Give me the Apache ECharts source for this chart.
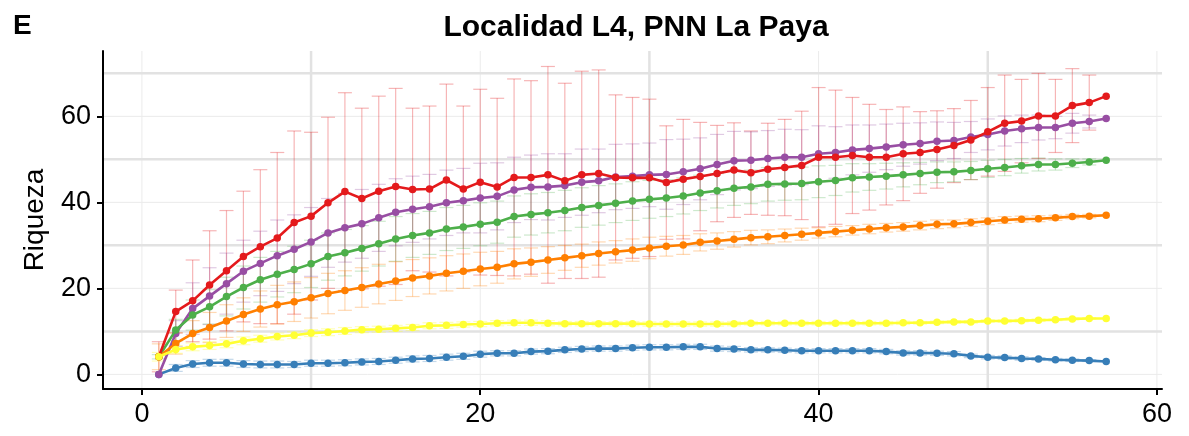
<!DOCTYPE html>
<html>
<head>
<meta charset="utf-8">
<title>Localidad L4, PNN La Paya</title>
<script src="https://cdn.jsdelivr.net/npm/echarts@6.0.0/dist/echarts.min.js"></script>
<style>
  html, body { margin: 0; padding: 0; background: #fff; }
  #chart { width: 1189px; height: 436px; }
</style>
</head>
<body>
<div id="chart"></div>
<script>
// muestras (eje x)
var muestras = [1,2,3,4,5,6,7,8,9,10,11,12,13,14,15,16,17,18,19,20,21,22,23,24,25,26,27,28,29,30,
  31,32,33,34,35,36,37,38,39,40,41,42,43,44,45,46,47,48,49,50,51,52,53,54,55,56,57];

// riqueza media por serie
var rojo = [4.1,14.6,17.1,20.8,24.1,27.4,29.7,31.7,35.3,36.8,39.9,42.5,40.9,42.6,43.7,43.0,43.1,45.2,43.1,44.7,
  43.6,45.8,45.8,46.4,45.0,46.4,46.7,45.8,45.7,45.7,44.6,45.4,46.0,46.7,47.5,46.9,47.7,48.1,48.6,50.5,
  50.5,50.9,50.5,50.5,51.3,51.6,52.3,53.2,54.5,56.4,58.4,58.9,60.1,60.1,62.5,63.2,64.7];
var morado = [0,9.5,15.3,18.2,21.1,24.0,25.8,27.6,29.1,30.8,32.9,34.1,35.0,36.4,37.7,38.4,39.0,39.9,40.4,41.0,
  41.4,42.9,43.5,43.6,43.9,44.7,45.0,45.9,46.1,46.4,46.5,47.1,47.8,48.8,49.7,49.8,50.2,50.5,50.5,51.3,
  51.6,52.2,52.5,52.9,53.4,53.7,54.2,54.4,55.2,55.8,56.6,57.1,57.4,57.4,58.4,58.8,59.5];
var verde = [4.1,10.3,13.8,15.7,18.1,20.2,22.0,23.3,24.4,25.7,27.4,28.3,29.3,30.4,31.5,32.3,32.9,33.8,34.3,34.9,
  35.4,36.7,37.2,37.6,38.1,38.8,39.3,39.8,40.3,40.7,41.0,41.5,42.2,42.7,43.3,43.6,44.2,44.3,44.4,44.8,
  45.1,45.7,45.9,46.1,46.4,46.7,47.0,47.1,47.4,47.8,48.1,48.5,48.8,48.8,49.1,49.4,49.8];
var naranja = [4.1,7.2,9.5,10.9,12.4,13.9,15.2,16.2,16.9,17.8,18.8,19.5,20.2,21.0,21.7,22.4,22.9,23.5,24.0,24.5,
  24.9,25.7,26.1,26.6,27.1,27.6,28.1,28.5,28.9,29.4,29.8,30.1,30.7,31.0,31.4,31.8,32.0,32.3,32.6,32.9,
  33.2,33.5,33.8,34.1,34.3,34.6,34.9,35.0,35.3,35.6,35.9,36.1,36.2,36.4,36.7,36.8,37.0];
var amarillo = [4.1,5.8,6.4,6.7,7.1,7.8,8.3,8.8,9.1,9.6,9.8,10.1,10.4,10.5,10.7,10.9,11.3,11.4,11.6,11.7,
  11.9,12.0,12.0,11.9,11.8,11.8,11.8,11.8,11.8,11.7,11.7,11.7,11.7,11.7,11.8,11.9,11.9,11.9,11.9,11.9,
  11.9,11.9,11.9,11.9,12.0,12.0,12.1,12.2,12.2,12.4,12.4,12.5,12.6,12.7,12.9,13.0,13.0];
var azul = [0,1.5,2.4,2.7,2.7,2.4,2.3,2.3,2.3,2.6,2.6,2.7,2.9,3.0,3.3,3.6,3.7,4.0,4.2,4.7,
  4.9,4.9,5.3,5.4,5.7,5.9,6.0,6.0,6.2,6.3,6.3,6.4,6.4,6.0,5.9,5.7,5.7,5.6,5.5,5.5,
  5.5,5.5,5.5,5.3,5.0,5.0,4.9,4.8,4.3,4.0,3.9,3.7,3.6,3.4,3.3,3.2,3.0];

// desviaciones (barras de error, +/-)
var rojoErr = [3.5,5.0,9.5,12.6,14.0,15.2,17.9,19.9,21.3,19.5,19.9,23.0,21.0,22.1,22.8,18.9,19.3,22.3,19.3,21.6,
  20.6,22.9,22.5,25.2,22.7,24.1,24.1,19.2,18.7,18.3,13.2,13.9,12.6,11.2,11.0,9.7,10.7,11.2,12.6,16.2,
  15.6,13.5,12.3,11.1,10.9,9.5,9.0,8.6,9.2,10.3,11.2,9.7,9.9,8.5,8.6,6.4,0];
var moradoErr = [0,3.0,6.0,6.6,7.1,7.2,7.5,8.3,8.0,8.0,8.0,8.0,8.0,7.8,7.8,7.7,7.5,7.6,7.5,8.1,
  7.8,7.6,7.5,7.7,7.4,7.7,7.4,7.6,7.5,7.4,8.1,7.6,7.2,7.0,6.8,6.6,6.5,6.5,6.4,6.5,
  6.0,5.8,5.5,5.3,5.0,4.8,4.5,4.2,3.6,3.6,3.5,3.2,2.9,2.6,2.3,1.5,0];
var verdeErr = [0.5,2.5,3.5,4.0,4.5,5.0,5.2,5.3,5.4,5.5,5.5,5.4,5.3,5.2,5.2,5.1,5.0,5.0,5.0,5.0,
  4.9,4.8,4.8,4.7,4.7,4.6,4.6,4.5,4.5,4.4,4.3,4.2,4.1,4.0,4.0,3.9,3.9,3.8,3.8,3.7,
  3.5,3.3,3.1,3.0,2.8,2.6,2.4,2.3,2.1,2.0,1.9,1.7,1.5,1.3,1.0,0.7,0];
var naranjaErr = [3.0,2.5,3.0,3.5,3.8,3.9,4.2,4.5,4.6,4.7,4.7,4.6,4.6,4.6,4.5,4.3,4.2,4.1,4.0,3.9,
  3.7,3.5,3.3,3.1,2.9,2.7,2.7,2.6,2.6,2.5,2.3,2.2,2.0,1.9,1.8,1.7,1.6,1.5,1.4,1.2,
  1.2,1.1,1.1,1.0,1.0,1.0,1.0,0.9,0.9,0.8,0.8,0.7,0.7,0.6,0.5,0.4,0];
var amarilloErr = [1.0,0.9,0.9,0.9,0.9,0.9,0.8,0.8,0.8,0.8,0.8,0.8,0.7,0.7,0.7,0.7,0.7,0.7,0.6,0.6,
  0.6,0.6,0.6,0.6,0.5,0.5,0.5,0.5,0.5,0.5,0.5,0.5,0.5,0.5,0.5,0.4,0.4,0.4,0.4,0.4,
  0.4,0.4,0.4,0.4,0.4,0.3,0.3,0.3,0.3,0.3,0.3,0.3,0.3,0.2,0.2,0.2,0];
var azulErr = [0,0.8,0.8,0.8,0.8,0.8,0.8,0.8,0.7,0.7,0.7,0.7,0.7,0.7,0.7,0.7,0.7,0.7,0.7,0.7,
  0.6,0.6,0.6,0.6,0.6,0.6,0.6,0.6,0.6,0.6,0.6,0.6,0.6,0.6,0.6,0.5,0.5,0.5,0.5,0.5,
  0.5,0.5,0.5,0.5,0.5,0.5,0.5,0.5,0.4,0.4,0.4,0.4,0.3,0.3,0.3,0.2,0];

// ticks y lineas de la rejilla
var ticksX = [0, 20, 40, 60];
var ticksY = [0, 20, 40, 60];
var gridX_gruesa = [10, 30, 50];
var gridX_fina = [0, 20, 40, 60];
var gridY_gruesa = [10, 30, 50, 70];
var gridY_fina = [0, 20, 40, 60];

var FONT = 'Liberation Sans, Arial, sans-serif';

var chart = echarts.init(document.getElementById('chart'), null, { renderer: 'canvas' });

// lineas de rejilla con la escala de los ejes
function rejilla(valores, vertical, ancho, color) {
  return {
    type: 'custom',
    silent: true,
    z: 0,
    data: valores.map(function (v) { return vertical ? [v, 0] : [0, v]; }),
    encode: { x: 0, y: 1 },
    renderItem: function (params, api) {
      var cs = params.coordSys;
      var p = api.coord([api.value(0), api.value(1)]);
      var shape = vertical
        ? { x1: p[0], y1: cs.y, x2: p[0], y2: cs.y + cs.height }
        : { x1: cs.x, y1: p[1], x2: cs.x + cs.width, y2: p[1] };
      return { type: 'line', shape: shape, style: { stroke: color, lineWidth: ancho } };
    }
  };
}

// barras de error
function errores(medias, errs, color) {
  var data = muestras.map(function (x, i) {
    return [x, medias[i] - errs[i], medias[i] + errs[i], errs[i]];
  });
  return {
    type: 'custom',
    silent: true,
    z: 1,
    data: data,
    encode: { x: 0, y: [1, 2] },
    renderItem: function (params, api) {
      if (api.value(3) <= 0) return null;
      var lo = api.coord([api.value(0), api.value(1)]);
      var hi = api.coord([api.value(0), api.value(2)]);
      var w = 7;
      var st = { stroke: color, lineWidth: 1.2 };
      return {
        type: 'group',
        children: [
          { type: 'line', shape: { x1: lo[0], y1: lo[1], x2: hi[0], y2: hi[1] }, style: st },
          { type: 'line', shape: { x1: hi[0] - w, y1: hi[1], x2: hi[0] + w, y2: hi[1] }, style: st },
          { type: 'line', shape: { x1: lo[0] - w, y1: lo[1], x2: lo[0] + w, y2: lo[1] }, style: st }
        ]
      };
    }
  };
}

function linea(nombre, medias, color, z) {
  return {
    name: nombre,
    type: 'line',
    z: z,
    data: muestras.map(function (x, i) { return [x, medias[i]]; }),
    symbol: 'circle',
    symbolSize: 7.5,
    showAllSymbol: true,
    lineStyle: { color: color, width: 2.6 },
    itemStyle: { color: color, borderWidth: 0 },
    emphasis: { disabled: true }
  };
}

var option = {
  animation: false,
  backgroundColor: '#fff',
  title: [
    {
      text: 'Localidad L4, PNN La Paya',
      left: 631,
      textAlign: 'center',
      top: 8,
      textStyle: { fontFamily: FONT, fontSize: 30, fontWeight: 'bold', color: '#000' }
    },
    {
      text: 'E',
      left: 8,
      top: 7,
      textStyle: { fontFamily: FONT, fontSize: 28, fontWeight: 'bold', color: '#000' }
    }
  ],
  grid: { left: 103, right: 27, top: 51, bottom: 47, containLabel: false },
  xAxis: {
    type: 'value',
    min: -2.3,
    max: 60.3,
    axisLine: { onZero: false, lineStyle: { color: '#000', width: 2 } },
    axisTick: { show: true, length: 6, customValues: ticksX, lineStyle: { color: '#000', width: 2 } },
    axisLabel: { customValues: ticksX, fontFamily: FONT, fontSize: 27, color: '#000', margin: 12 },
    splitLine: { show: false }
  },
  yAxis: {
    type: 'value',
    min: -3.4,
    max: 75.2,
    name: 'Riqueza',
    nameLocation: 'middle',
    nameGap: 54,
    nameTextStyle: { fontFamily: FONT, fontSize: 28, color: '#000' },
    axisLine: { show: true, onZero: false, lineStyle: { color: '#000', width: 2 } },
    axisTick: { show: true, length: 6, customValues: ticksY, lineStyle: { color: '#000', width: 2 } },
    axisLabel: { customValues: ticksY, fontFamily: FONT, fontSize: 27, color: '#000', margin: 12 },
    splitLine: { show: false }
  },
  series: [
    rejilla(gridY_fina, false, 1, '#ebebeb'),
    rejilla(gridX_fina, true, 1, '#ebebeb'),
    rejilla(gridY_gruesa, false, 2.5, '#e2e2e2'),
    rejilla(gridX_gruesa, true, 2.5, '#e2e2e2'),
    errores(rojo, rojoErr, 'rgba(228,26,28,0.32)'),
    errores(morado, moradoErr, 'rgba(152,78,163,0.3)'),
    errores(verde, verdeErr, 'rgba(77,175,74,0.28)'),
    errores(naranja, naranjaErr, 'rgba(255,127,0,0.3)'),
    errores(amarillo, amarilloErr, 'rgba(255,255,51,0.35)'),
    errores(azul, azulErr, 'rgba(55,126,184,0.3)'),
    linea('azul', azul, '#377EB8', 3),
    linea('morado', morado, '#984EA3', 4),
    linea('verde', verde, '#4DAF4A', 5),
    linea('naranja', naranja, '#FF7F00', 6),
    linea('rojo', rojo, '#E41A1C', 7),
    linea('amarillo', amarillo, '#FFFF33', 8)
  ]
};

chart.setOption(option);
</script>
</body>
</html>
